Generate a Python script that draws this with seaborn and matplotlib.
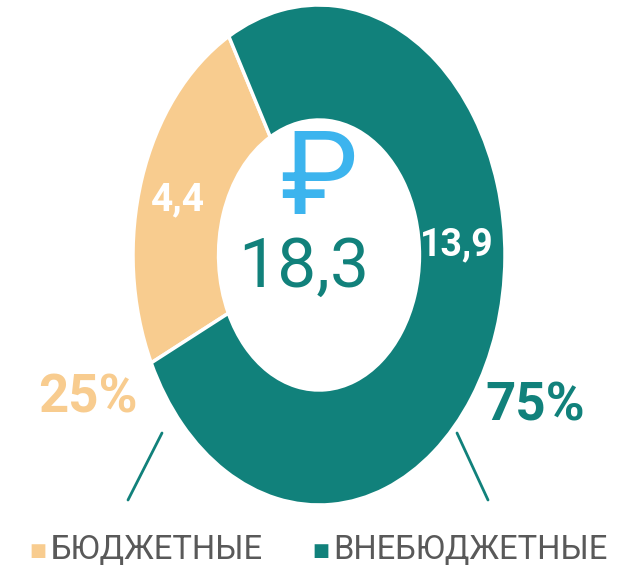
#! /usr/bin/env python3
import seaborn as sns
import matplotlib.pyplot as plt

# Data
CATEGORIES = ["БЮДЖЕТНЫЕ", "ВНЕБЮДЖЕТНЫЕ"]
VALUES = [4.4, 13.9]
VALUE_LABELS = ["4,4", "13,9"]
PCT_LABELS = ["25%", "75%"]
TOTAL_LABEL = "18,3"

COLOURS = ["#F8CC8F", "#11817B"]
TEXT_GREY = "#595959"
ROUBLE_BLUE = "#3CB4EE"
FONT = ["Roboto", "DejaVu Sans"]


def main():
    sns.set_theme(style='white')
    plt.rcParams['font.family'] = FONT

    f = plt.figure(figsize=(6.21, 5.75), dpi=100)
    # donut drawn on stretched axes so it comes out as a tall ellipse
    ax = f.add_axes([133 / 621, 70 / 575, 372 / 621, 500 / 575])
    wedges, _ = ax.pie(VALUES, colors=COLOURS, startangle=119, counterclock=True,
                       radius=1.0,
                       wedgeprops=dict(width=0.46, edgecolor='white', linewidth=2.5))
    ax.set_aspect('auto')
    ax.set_xlim(-1, 1)
    ax.set_ylim(-1, 1)
    ax.axis('off')

    # values on the wedges
    ax.text(-0.76, 0.22, VALUE_LABELS[0], color='white', fontsize=28,
            fontweight='bold', ha='center', va='center')
    ax.text(0.74, 0.04, VALUE_LABELS[1], color='white', fontsize=27,
            fontweight='bold', ha='center', va='center')

    # centre: rouble sign and total
    ax.text(0.0, 0.29, "₽", color=ROUBLE_BLUE, fontsize=84,
            ha='center', va='center')
    ax.text(-0.08, -0.05, TOTAL_LABEL, color=COLOURS[1], fontsize=50,
            ha='center', va='center')

    # percentages and leader lines
    f.text(88 / 621, 1 - 398 / 575, PCT_LABELS[0], color=COLOURS[0], fontsize=38,
           fontweight='bold', ha='center', va='center')
    f.text(535 / 621, 1 - 406 / 575, PCT_LABELS[1], color=COLOURS[1], fontsize=38,
           fontweight='bold', ha='center', va='center')
    f.add_artist(plt.Line2D([162 / 621, 128 / 621], [1 - 433 / 575, 1 - 500 / 575],
                            color=COLOURS[1], linewidth=2))
    f.add_artist(plt.Line2D([457 / 621, 488 / 621], [1 - 433 / 575, 1 - 500 / 575],
                            color=COLOURS[1], linewidth=2))

    # legend
    for i, (x_sq, x_txt) in enumerate([(38, 50), (321, 333)]):
        f.text(x_sq / 621, 1 - 551 / 575, "■", color=COLOURS[i], fontsize=13,
               ha='center', va='center', family=['DejaVu Sans'])
        f.text(x_txt / 621, 1 - 550 / 575, CATEGORIES[i], color=TEXT_GREY,
               fontsize=23.5, ha='left', va='center')

    f.savefig("out.png", dpi=100)


if __name__ == "__main__":
    main()
